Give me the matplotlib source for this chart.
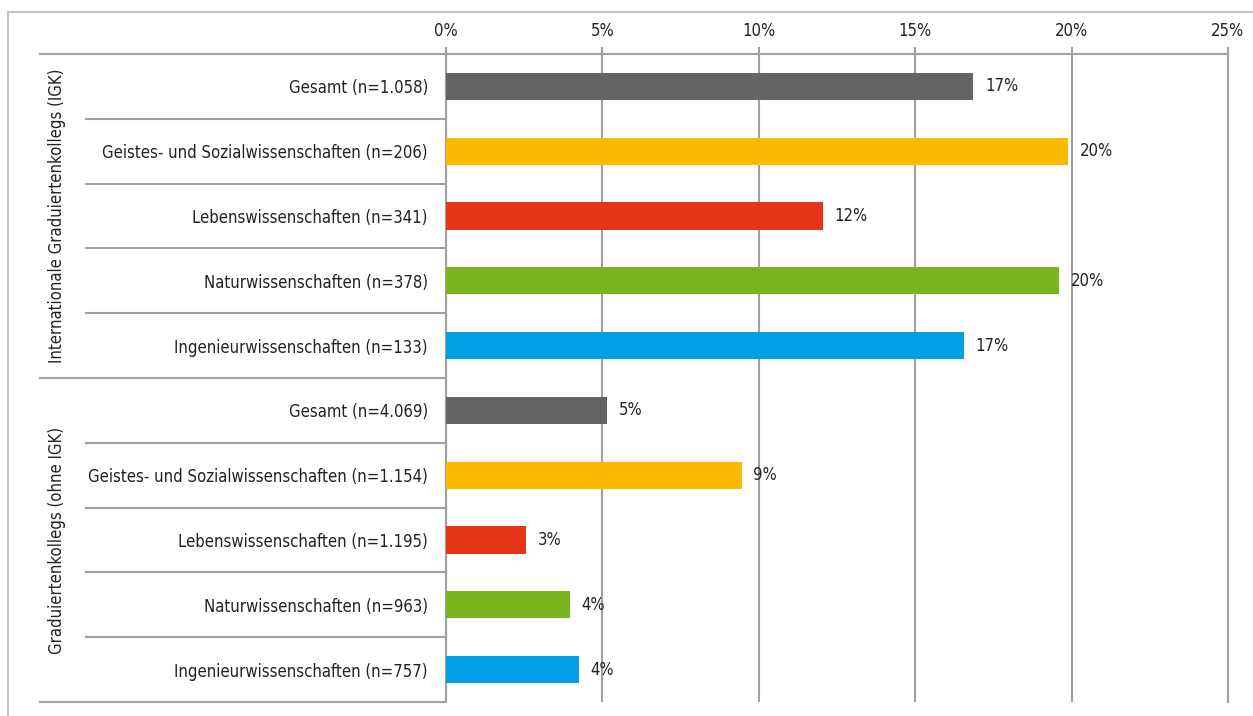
import matplotlib.pyplot as plt
from matplotlib.lines import Line2D

plt.rcParams['font.family'] = ['DejaVu Sans']
plt.rcParams['font.stretch'] = 'condensed'

# Daten
labels = ["Gesamt (n=1.058)", "Geistes- und Sozialwissenschaften (n=206)",
          "Lebenswissenschaften (n=341)", "Naturwissenschaften (n=378)",
          "Ingenieurwissenschaften (n=133)",
          "Gesamt (n=4.069)", "Geistes- und Sozialwissenschaften (n=1.154)",
          "Lebenswissenschaften (n=1.195)", "Naturwissenschaften (n=963)",
          "Ingenieurwissenschaften (n=757)"]
values = [16.85, 19.9, 12.05, 19.6, 16.55, 5.15, 9.45, 2.55, 3.95, 4.25]
value_labels = ["17%", "20%", "12%", "20%", "17%", "5%", "9%", "3%", "4%", "4%"]
groups = ["Internationale Graduiertenkollegs (IGK)", "Graduiertenkollegs (ohne IGK)"]
xticks = [0, 5, 10, 15, 20, 25]

farben = ["#636466", "#fbba00", "#e53517", "#7ab51d", "#009fe3"] * 2
grau = "#a0a0a0"
fs = 12

W, H = 1253, 716
fig = plt.figure(figsize=(W / 100, H / 100), dpi=100)
ax = fig.add_axes([446 / W, 1 - 702 / H, (1228 - 446) / W, (702 - 54) / H])

y = list(range(len(labels)))
ax.barh(y, values, height=0.42, color=farben, zorder=3)
for yi, v, t in zip(y, values, value_labels):
    ax.annotate(t, (v, yi), xytext=(8.5, 0), textcoords='offset points',
                va='center', ha='left', fontsize=fs, color='#222222', zorder=4)

ax.set_xlim(0, 25)
ax.set_ylim(9.5, -0.5)
ax.set_xticks(xticks)
ax.set_xticklabels([f"{t}%" for t in xticks], fontsize=fs, color='#222222')
ax.xaxis.tick_top()
ax.tick_params(axis='x', length=5, width=1.5, color=grau, pad=5)
ax.set_yticks(y)
ax.set_yticklabels(labels, fontsize=fs, color='#222222')
ax.tick_params(axis='y', length=0, pad=13)
ax.grid(axis='x', color=grau, linewidth=1.5, zorder=1)

ax.spines['bottom'].set_visible(False)
for s in ['left', 'top', 'right']:
    ax.spines[s].set_color(grau)
    ax.spines[s].set_linewidth(1.5)

# Linien links (Gruppen und Zeilen)
tr = ax.get_yaxis_transform()
x40 = (40 - 446) / (1228 - 446)
x86 = (86 - 446) / (1228 - 446)
for b in [-0.5, 4.5, 9.5]:
    ax.plot([x40, 0], [b, b], transform=tr, color=grau, lw=1.5, clip_on=False)
for b in [0.5, 1.5, 2.5, 3.5, 5.5, 6.5, 7.5, 8.5]:
    ax.plot([x86, 0], [b, b], transform=tr, color=grau, lw=1.5, clip_on=False)

xg = (57 - 446) / (1228 - 446)
for g, yc in zip(groups, [2, 7]):
    ax.text(xg, yc, g, transform=tr, rotation=90, ha='center', va='center',
            fontsize=fs, color='#222222')

# Rahmen
fig.add_artist(Line2D([8 / W, 8 / W], [0, 1 - 12 / H], color='#c0c0c0', lw=1.5))
fig.add_artist(Line2D([8 / W, 1], [1 - 12 / H, 1 - 12 / H], color='#c0c0c0', lw=1.5))

fig.savefig('out.png', dpi=100)
